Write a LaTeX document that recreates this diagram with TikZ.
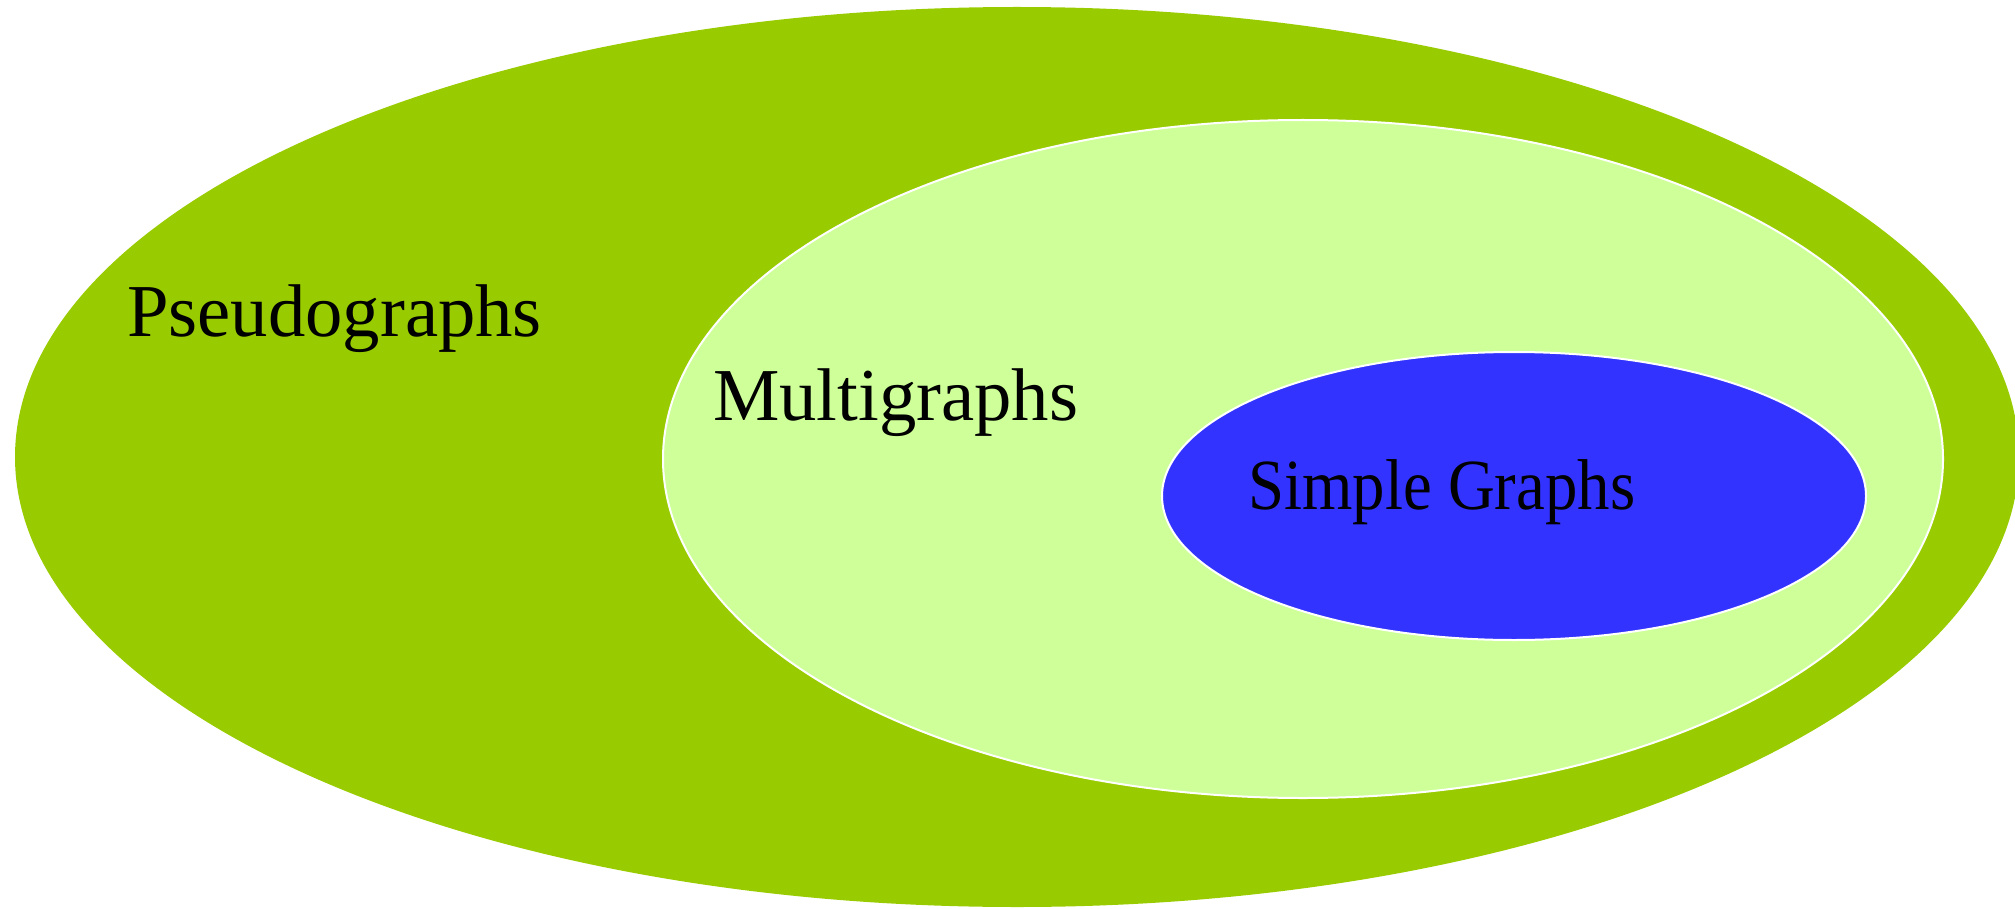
\documentclass[tikz,border=0pt]{standalone}
\usepackage{fontspec}
\setmainfont{Liberation Serif}
\usetikzlibrary{shapes.geometric}
\definecolor{pseudogreen}{RGB}{153,204,0}
\definecolor{multigreen}{RGB}{207,255,153}
\definecolor{simpleblue}{RGB}{51,51,255}
\begin{document}
\begin{tikzpicture}[x=0.75pt, y=-0.75pt,
		set/.style={ellipse, inner sep=0pt, outer sep=0pt},
		lbl/.style={anchor=base west, inner sep=0pt, font=\fontsize{56}{68}\selectfont}]
		\useasboundingbox (0,0) rectangle (2015,909);
		\node (pseudo) [set, fill=pseudogreen, minimum width=1503pt, minimum height=675pt] at (1017,457) {};
		\node (multi) [set, fill=multigreen, draw=white, line width=1.5pt, minimum width=960pt, minimum height=508.5pt] at (1303,459) {};
		\node (simple) [set, fill=simpleblue, draw=white, line width=1.5pt, minimum width=528pt, minimum height=216pt] at (1514,496) {};

		\node (pseudolbl) [lbl] at (127,336) {Pseudographs};
		\node (multilbl) [lbl] at (713,420) {Multigraphs};
		\node (simplelbl) [lbl, font=\fontsize{54}{64}\selectfont] at (1248,509) {\scalebox{0.9}[1]{Simple Graphs}};
	\end{tikzpicture}
\end{document}
